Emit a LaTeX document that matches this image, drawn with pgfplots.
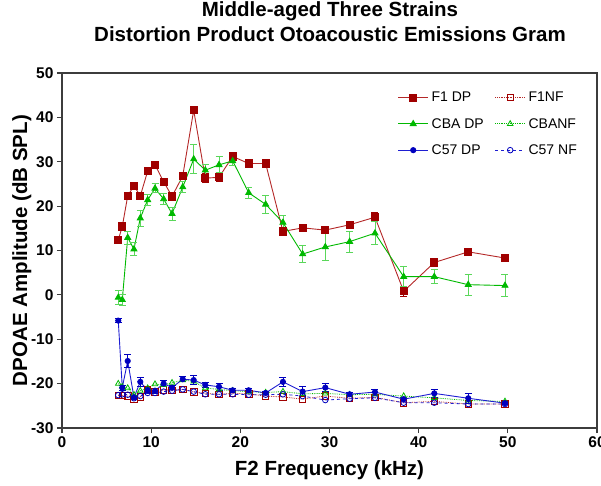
\documentclass[border=0pt]{standalone}
\usepackage{pgfplots}
\pgfplotsset{compat=1.18}
\usepackage{pgfplotstable}
\usepackage{fontspec}
\setmainfont{Liberation Sans}

\definecolor{axgray}{RGB}{60,60,60}
\definecolor{dpred}{RGB}{160,0,0}
\definecolor{lnred}{RGB}{180,40,40}
\definecolor{dpgreen}{RGB}{0,185,0}
\definecolor{ebgreen}{RGB}{90,215,90}
\definecolor{dpblue}{RGB}{0,0,190}
\definecolor{lnblue}{RGB}{30,30,210}

% F1 hybrid, DP with SEM
\pgfplotstableread{
f v e
6.31 12.4 0.6
6.76 15.4 0.6
7.37 22.3 0.6
8.07 24.6 0.6
8.78 22.3 0.6
9.61 27.9 0.6
10.43 29.3 0.6
11.40 25.5 0.6
12.34 22.2 0.6
13.54 26.8 0.6
14.77 41.6 0.7
16.07 26.3 1.0
17.61 26.5 1.0
19.14 31.2 0.7
20.94 29.6 0.5
22.84 29.6 0.5
24.78 14.3 0.7
26.99 15.1 0.7
29.53 14.6 0.6
32.26 15.8 0.6
35.10 17.5 1.0
38.32 0.8 1.2
41.75 7.3 0.6
45.56 9.7 0.6
49.68 8.3 0.7
}\fdp

\pgfplotstableread{
f v e
6.31 -0.6 1.5
6.76 -1.1 1.3
7.37 12.9 1.5
8.07 10.3 1.5
8.78 17.3 1.8
9.61 21.4 1.2
10.43 24.0 1.0
11.40 21.6 1.3
12.34 18.3 1.5
13.54 24.3 1.2
14.77 30.6 3.3
16.07 28.1 1.3
17.61 29.3 1.8
19.14 30.2 1.0
20.94 23.0 1.2
22.84 20.4 2.0
24.78 16.3 1.6
26.99 9.2 2.0
29.53 10.8 3.0
32.26 12.0 2.4
35.10 13.9 2.6
38.32 4.1 2.2
41.75 4.1 1.6
45.56 2.3 2.4
49.68 2.1 2.4
}\cbadp

\pgfplotstableread{
f v e
6.31 -5.8 0.4
6.76 -20.9 0.6
7.37 -14.9 1.5
8.07 -23.1 0.5
8.78 -19.6 1.0
9.61 -21.5 0.6
10.43 -21.6 0.6
11.40 -20.0 0.7
12.34 -20.9 0.5
13.54 -19.0 0.6
14.77 -19.2 1.0
16.07 -20.3 0.6
17.61 -20.7 0.8
19.14 -21.5 0.4
20.94 -21.5 0.4
22.84 -22.1 0.4
24.78 -19.6 1.0
26.99 -21.8 1.2
29.53 -20.9 0.9
32.26 -22.4 0.4
35.10 -21.9 0.5
38.32 -23.5 0.4
41.75 -22.2 1.0
45.56 -23.3 1.2
49.68 -24.4 0.4
}\cdp

% noise floors
\pgfplotstableread{
f fnf cbanf cnf
6.31 -22.7 -20.0 -22.6
6.76 -22.7 -20.7 -22.4
7.37 -22.8 -21.0 -22.5
8.07 -23.5 -22.5 -23.3
8.78 -23.0 -21.6 -22.8
9.61 -21.3 -21.0 -22.1
10.43 -21.9 -20.1 -22.1
11.40 -21.4 -20.3 -21.8
12.34 -21.5 -19.8 -21.6
13.54 -21.3 -19.2 -21.3
14.77 -21.9 -19.5 -21.8
16.07 -22.2 -21.0 -22.4
17.61 -22.4 -21.3 -22.4
19.14 -22.2 -21.6 -22.4
20.94 -22.3 -21.8 -22.5
22.84 -22.8 -22.0 -22.5
24.78 -23.0 -21.8 -22.4
26.99 -23.5 -22.3 -22.8
29.53 -22.8 -22.2 -23.7
32.26 -23.3 -22.5 -23.4
35.10 -23.1 -22.4 -23.2
38.32 -24.3 -22.8 -24.3
41.75 -24.0 -23.2 -24.3
45.56 -24.6 -23.8 -24.6
49.68 -24.6 -24.0 -24.6
}\nf

\begin{document}
\begin{tikzpicture}
\useasboundingbox (-62pt,-57pt) rectangle (539pt,428pt);
\begin{axis}[
  scale only axis, width=535pt, height=355pt,
  xmin=0, xmax=60, ymin=-30, ymax=50,
  xtick={0,10,...,60}, ytick={-30,-20,...,50},
  tick align=outside, xtick pos=lower, ytick pos=left,
  major tick length=5pt,
  axis line style={draw=axgray, line width=1.5pt},
  tick style={draw=axgray, line width=1.2pt},
  ticklabel style={font=\fontsize{15.5}{18}\selectfont\bfseries},
  /pgf/number format/assume math mode=true,
  xlabel={F2 Frequency (kHz)},
  xlabel style={at={([yshift=-47pt]axis description cs:0.5,0)}, anchor=base,
    font=\fontsize{20.5}{24}\selectfont\bfseries},
  ylabel={DPOAE Amplitude (dB SPL)},
  ylabel style={at={([xshift=-35pt]axis description cs:0,0.5)}, anchor=base,
    rotate=0, font=\fontsize{20.5}{24}\selectfont\bfseries},
  legend columns=2, legend cell align=left,
  legend style={at={(axis description cs:0.972,0.958)}, anchor=north east,
    draw=none, fill=none, font=\fontsize{14}{16}\selectfont, row sep=11pt,
    /tikz/every odd column/.append style={column sep=1pt},
    /tikz/every even column/.append style={column sep=9pt}},
  legend image code/.code={\draw[mark repeat=2, mark phase=2, #1, mark size=2pt]
    plot coordinates {(0pt,0pt) (15pt,0pt) (30pt,0pt)};},
  error bars/y dir=both, error bars/y explicit,
]
\addplot[lnred, line width=0.9pt, mark=square*,
  mark options={fill=dpred, draw=dpred, mark size=3.6pt},
  error bars/error bar style={dpred, line width=0.8pt},
  error bars/error mark options={rotate=90, dpred, mark size=3.5pt, line width=0.8pt}]
  table[x=f, y=v, y error=e]{\fdp};
\addlegendentry{F1 DP}
\addplot[lnred, line width=0.8pt, densely dotted, mark=square,
  mark options={solid, draw=dpred, fill=white, mark size=3.2pt}]
  table[x=f, y=fnf]{\nf};
\addlegendentry{F1NF}
\addplot[dpgreen, line width=0.9pt, mark=triangle*,
  mark options={fill=dpgreen, draw=dpgreen, mark size=3.4pt},
  error bars/error bar style={ebgreen, line width=0.9pt},
  error bars/error mark options={rotate=90, ebgreen, mark size=3.5pt, line width=0.9pt}]
  table[x=f, y=v, y error=e]{\cbadp};
\addlegendentry{CBA DP}
\addplot[dpgreen, line width=0.8pt, densely dotted, mark=triangle,
  mark options={solid, draw=dpgreen, fill=white, mark size=3.2pt}]
  table[x=f, y=cbanf]{\nf};
\addlegendentry{CBANF}
\addplot[lnblue, line width=0.9pt, mark=*,
  mark options={fill=dpblue, draw=dpblue, mark size=2.6pt},
  error bars/error bar style={dpblue, line width=0.9pt},
  error bars/error mark options={rotate=90, dpblue, mark size=3.5pt, line width=0.9pt}]
  table[x=f, y=v, y error=e]{\cdp};
\addlegendentry{C57 DP}
\addplot[lnblue, line width=0.8pt, dashed, mark=o,
  mark options={solid, draw=dpblue, fill=white, mark size=2.8pt}]
  table[x=f, y=cnf]{\nf};
\addlegendentry{C57 NF}
\end{axis}
\node[anchor=base, font=\fontsize{20.5}{24}\selectfont\bfseries]
  at (268pt,411pt) {Middle-aged Three Strains};
\node[anchor=base, font=\fontsize{20.5}{24}\selectfont\bfseries]
  at (268pt,386pt) {Distortion Product Otoacoustic Emissions Gram};
\end{tikzpicture}
\end{document}
